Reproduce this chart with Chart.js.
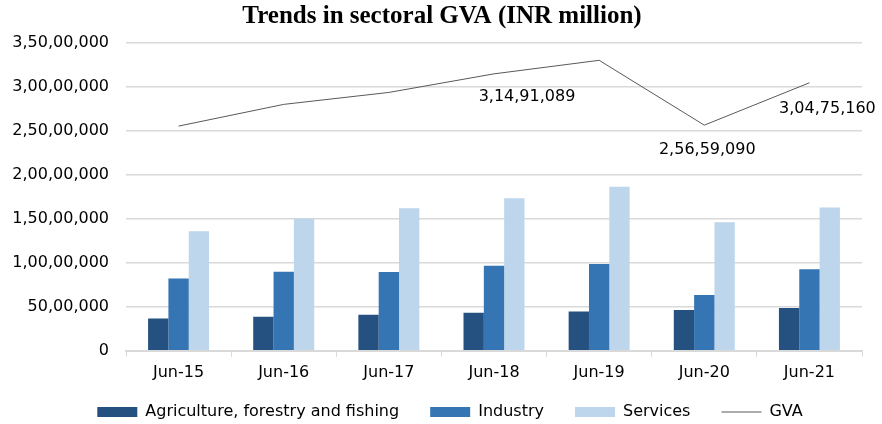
<!DOCTYPE html>
<html>
<head>
<meta charset="utf-8">
<script src="https://cdn.jsdelivr.net/npm/chart.js@4"></script>
<style>
  html, body { margin: 0; padding: 0; background: #fff; }
  #wrap { width: 882px; height: 424px; position: relative; }
</style>
</head>
<body>
<div id="wrap"><canvas id="gvaChart"></canvas></div>
<script>
// Data (INR million)
const categories = ['Jun-15', 'Jun-16', 'Jun-17', 'Jun-18', 'Jun-19', 'Jun-20', 'Jun-21'];
const agriculture = [3680000, 3870000, 4100000, 4330000, 4480000, 4630000, 4860000];
const industry = [8230000, 9000000, 8960000, 9680000, 9870000, 6340000, 9260000];
const services = [13590000, 15030000, 16210000, 17350000, 18640000, 14620000, 16290000];
const gva = [25550000, 28020000, 29380000, 31491089, 33030000, 25659090, 30475160];
// Only these points carry a data label in the original
const labelledPoints = [3, 5, 6];

// Indian digit grouping, e.g. 35000000 -> 3,50,00,000
function formatIndian(n) {
    const s = String(Math.round(n));
    if (s.length <= 3) return s;
    const last3 = s.slice(-3);
    let rest = s.slice(0, -3);
    const parts = [];
    while (rest.length > 2) {
        parts.unshift(rest.slice(-2));
        rest = rest.slice(0, -2);
    }
    if (rest) parts.unshift(rest);
    return parts.join(',') + ',' + last3;
}

const FONT = "'DejaVu Sans', Verdana, sans-serif";

// Draw GVA data labels, nudged the way they sit in the source
const labelOffsets = { 3: [33, 23], 5: [3, 25], 6: [18, 26] };
const gvaLabels = {
    id: 'gvaLabels',
    afterLayout(chart) {
        // title and legend are centred on the whole canvas in the source
        chart.titleBlock.left += 11;
        chart.titleBlock.right += 11;
        chart.legend.left += 19;
        chart.legend.right += 19;
        chart.legend.top -= 15;
        chart.legend.bottom -= 15;
    },
    afterDatasetsDraw(chart) {
        const meta = chart.getDatasetMeta(3);
        const ctx = chart.ctx;
        ctx.save();
        ctx.font = '16px ' + FONT;
        ctx.fillStyle = '#000';
        ctx.textAlign = 'center';
        ctx.textBaseline = 'middle';
        labelledPoints.forEach(i => {
            const pt = meta.data[i];
            const off = labelOffsets[i];
            ctx.fillText(formatIndian(gva[i]), pt.x + off[0], pt.y + off[1]);
        });
        ctx.restore();
    }
};

new Chart(document.getElementById('gvaChart'), {
    type: 'bar',
    data: {
        labels: categories,
        datasets: [
            { label: 'Agriculture, forestry and fishing', data: agriculture, backgroundColor: '#255180', borderWidth: 0, order: 2 },
            { label: 'Industry', data: industry, backgroundColor: '#3675b3', borderWidth: 0, order: 2 },
            { label: 'Services', data: services, backgroundColor: '#bdd6ec', borderWidth: 0, order: 2 },
            {
                label: 'GVA',
                type: 'line',
                data: gva,
                borderColor: '#595959',
                borderWidth: 1,
                backgroundColor: '#595959',
                pointRadius: 0,
                tension: 0,
                order: 1
            }
        ]
    },
    options: {
        responsive: true,
        maintainAspectRatio: false,
        animation: false,
        devicePixelRatio: 1,
        categoryPercentage: 0.58,
        barPercentage: 1,
        layout: { padding: { left: 0, right: 20, top: 0, bottom: -21 } },
        plugins: {
            title: {
                display: true,
                text: 'Trends in sectoral GVA (INR million)',
                color: '#000',
                font: { family: "'Liberation Serif', 'Times New Roman', serif", size: 25, weight: 'bold' },
                padding: { top: 2, bottom: 11 }
            },
            legend: {
                position: 'bottom',
                labels: {
                    color: '#000',
                    font: { family: FONT, size: 16 },
                    usePointStyle: true,
                    pointStyleWidth: 40,
                    boxHeight: 10,
                    padding: 31,
                    generateLabels(chart) {
                        return chart.data.datasets.map((ds, i) => ({
                            text: ds.label,
                            fillStyle: ds.backgroundColor,
                            strokeStyle: ds.type === 'line' ? ds.borderColor : ds.backgroundColor,
                            lineWidth: ds.type === 'line' ? 1 : 0,
                            pointStyle: ds.type === 'line' ? 'line' : 'rect',
                            fontColor: '#000',
                            hidden: false,
                            datasetIndex: i
                        }));
                    }
                }
            },
            tooltip: { enabled: false }
        },
        scales: {
            x: {
                grid: { offset: true, drawOnChartArea: false, color: '#d9d9d9', tickLength: 6, lineWidth: 1 },
                border: { color: '#d9d9d9', width: 2 },
                ticks: { color: '#000', font: { family: FONT, size: 16 }, padding: 6 }
            },
            y: {
                min: 0,
                max: 35000000,
                afterFit(scale) { scale.width = 126; },
                grid: { color: '#d9d9d9', drawTicks: false, lineWidth: 1.5 },
                border: { display: false },
                ticks: {
                    stepSize: 5000000,
                    color: '#000',
                    font: { family: FONT, size: 16 },
                    padding: 17,
                    callback: v => formatIndian(v)
                }
            }
        }
    },
    plugins: [gvaLabels]
});
</script>
</body>
</html>
